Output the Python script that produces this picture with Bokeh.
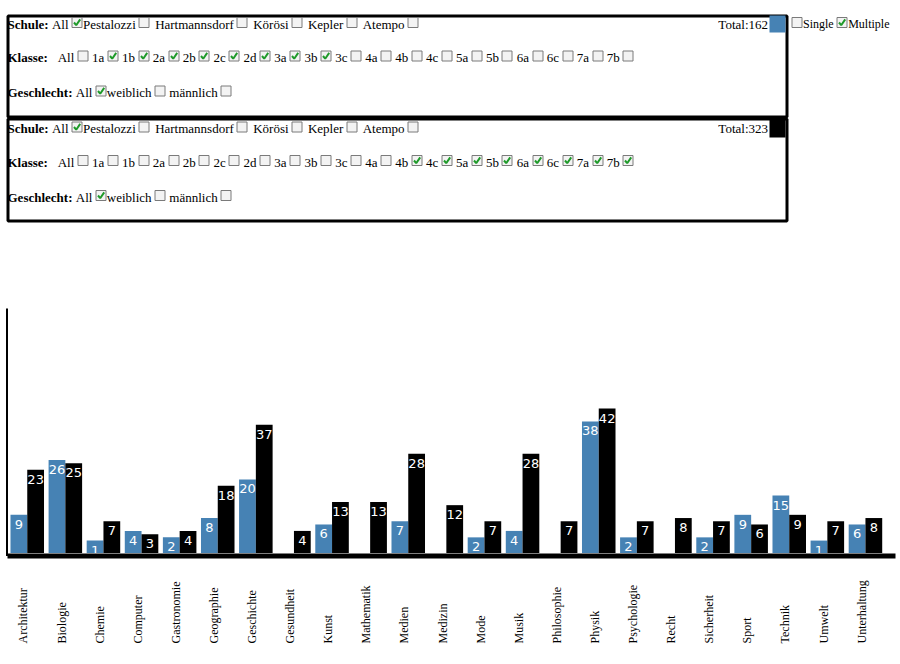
import math
from bokeh.plotting import figure
from bokeh.models import ColumnDataSource, FactorRange, Range1d
from bokeh.transform import dodge
from bokeh.layouts import column
from bokeh.core.properties import value
from bokeh.embed import file_html
from bokeh.resources import INLINE

# ---------------- data ----------------
subjects = ["Architektur", "Biologie", "Chemie", "Computer", "Gastronomie", "Geographie",
            "Geschichte", "Gesundheit", "Kunst", "Mathematik", "Medien", "Medizin", "Mode",
            "Musik", "Philosophie", "Physik", "Psychologie", "Recht", "Sicherheit", "Sport",
            "Technik", "Umwelt", "Unterhaltung"]
group1_counts = [9, 26, 1, 4, 2, 8, 20, 0, 6, 0, 7, 0, 2, 4, 0, 38, 2, 0, 2, 9, 15, 1, 6]
group2_counts = [23, 25, 7, 3, 4, 18, 37, 4, 13, 13, 28, 12, 7, 28, 7, 42, 7, 8, 7, 6, 9, 7, 8]

schools = ["Pestalozzi", "Hartmannsdorf", "Körösi", "Kepler", "Atempo"]
classes = ["1a", "1b", "2a", "2b", "2c", "2d", "3a", "3b", "3c", "4a", "4b", "4c",
           "5a", "5b", "6a", "6c", "7a", "7b"]
genders = ["weiblich", "männlich"]

group1_school_all = True
group1_schools = [False, False, False, False, False]
group1_class_all = False
group1_classes = ["1a", "1b", "2a", "2b", "2c", "2d", "3a", "3b"]
group1_gender_all = True
group1_genders = [False, False]

group2_school_all = True
group2_schools = [False, False, False, False, False]
group2_class_all = False
group2_classes = ["4b", "4c", "5a", "5b", "6a", "6c", "7a", "7b"]
group2_gender_all = True
group2_genders = [False, False]

mode_single = False
mode_multiple = True

COLOR1 = "#4682b4"
COLOR2 = "#000000"

# ---------------- layout constants ----------------
FIG_W = 896
PANEL_H = 228
CHART_H = 430
SERIF = "Liberation Serif"
TEXT_DY = -4.0   # correction between intended baseline and rendered text

# Times/Liberation Serif advance widths (1/1000 em)
REG = {' ': 250, ':': 278, '.': 250, 'A': 722, 'B': 667, 'C': 667, 'D': 722, 'E': 611, 'F': 556,
       'G': 722, 'H': 722, 'I': 333, 'J': 389, 'K': 722, 'L': 611, 'M': 889, 'N': 722, 'O': 722,
       'P': 556, 'Q': 722, 'R': 667, 'S': 556, 'T': 611, 'U': 722, 'V': 722, 'W': 944, 'X': 722,
       'Y': 722, 'Z': 611, 'a': 444, 'b': 500, 'c': 444, 'd': 500, 'e': 444, 'f': 333, 'g': 500,
       'h': 500, 'i': 278, 'j': 278, 'k': 500, 'l': 278, 'm': 778, 'n': 500, 'o': 500, 'p': 500,
       'q': 500, 'r': 333, 's': 389, 't': 278, 'u': 500, 'v': 500, 'w': 722, 'x': 500, 'y': 500,
       'z': 444, 'ö': 500, 'ä': 444, 'ü': 500}
for d in "0123456789":
    REG[d] = 500
BOLD = dict(REG)
BOLD.update({'S': 556, 'c': 444, 'h': 556, 'u': 556, 'l': 278, 'e': 444, ':': 333, 'K': 778,
             'a': 500, 's': 389, 'G': 778, 't': 333})


def text_width(s, size, bold=False):
    tbl = BOLD if bold else REG
    return sum(tbl.get(ch, 500) for ch in s) * size / 1000.0


def layout_row(tokens, x0, baseline, size, texts, boxes):
    x = x0
    for kind, val in tokens:
        if kind in ("b", "t"):
            texts.append((x, baseline, val, "bold" if kind == "b" else "normal", size))
            x += text_width(val, size, kind == "b")
        elif kind == "sp":
            x += val * 0.25 * size
        elif kind == "cb":
            x += 3
            boxes.append((round(x), baseline - 6, val))
            x += 10 + 1.5
    return x


def group_rows(school_all, school_sel, class_all, class_sel, gender_all, gender_sel):
    r1 = [("b", "Schule:"), ("sp", 1), ("t", "All"), ("cb", school_all)]
    for i, s in enumerate(schools):
        if i > 0:
            r1.append(("sp", 1.5))
        r1 += [("t", s), ("cb", school_sel[i])]
    r2 = [("b", "Klasse:"), ("sp", 3), ("t", "All"), ("cb", class_all)]
    for c in classes:
        r2 += [("sp", 1), ("t", c), ("cb", c in class_sel)]
    r3 = [("b", "Geschlecht:"), ("sp", 1), ("t", "All"), ("cb", gender_all)]
    for i, g in enumerate(genders):
        if i > 0:
            r3.append(("sp", 1))
        r3 += [("t", g), ("cb", gender_sel[i])]
    return [r1, r2, r3]


# ---------------- panel figure ----------------
panel = figure(width=FIG_W, height=PANEL_H, output_backend="svg", toolbar_location=None,
               x_range=Range1d(0, FIG_W), y_range=Range1d(PANEL_H, 0),
               min_border=0, outline_line_color=None)
panel.axis.visible = False
panel.grid.visible = False

texts, boxes = [], []
groups = [
    (14, group_rows(group1_school_all, group1_schools, group1_class_all, group1_classes,
                    group1_gender_all, group1_genders), sum(group1_counts), COLOR1),
    (118.5, group_rows(group2_school_all, group2_schools, group2_class_all, group2_classes,
                       group2_gender_all, group2_genders), sum(group2_counts), COLOR2),
]
tot_texts = []
for top, rows, total, col in groups:
    for k, row in enumerate(rows):
        layout_row(row, 7, top + [13.5, 47, 82][k], 13, texts, boxes)
    tot_texts.append((767.5, top + 13.5, "Total:%d" % total))

# boxes (frames)
panel.quad(left=[7.5, 7.5], right=[786.5, 786.5], top=[15.5, 118.5], bottom=[116.5, 220.5],
           fill_color=None, line_color="black", line_width=3)
# color swatches
panel.quad(left=[769, 769], right=[785, 785], top=[15, 119], bottom=[32, 137],
           fill_color=[COLOR1, COLOR2], line_color=None)

# mode selector (outside)
layout_row([("cb", mode_single), ("t", "Single"), ("cb", mode_multiple), ("t", "Multiple")],
           788, 27.5, 12, texts, boxes)

for style in ("normal", "bold"):
    sel = [t for t in texts if t[3] == style]
    for size in sorted(set(t[4] for t in sel)):
        s2 = [t for t in sel if t[4] == size]
        panel.text(x=[t[0] for t in s2], y=[t[1] + TEXT_DY for t in s2], text=[t[2] for t in s2],
                   text_font=value(SERIF), text_font_size="%dpx" % size, text_font_style=style,
                   text_color="black", text_align="left", text_baseline="alphabetic")
panel.text(x=[t[0] for t in tot_texts], y=[t[1] + TEXT_DY for t in tot_texts], text=[t[2] for t in tot_texts],
           text_font=value(SERIF), text_font_size="13px", text_color="black",
           text_align="right", text_baseline="alphabetic")

panel.quad(left=[b[0] + 0.5 for b in boxes], right=[b[0] + 10.5 for b in boxes],
           top=[b[1] - 4.5 for b in boxes], bottom=[b[1] + 5.5 for b in boxes],
           fill_color="#f3f3f3", line_color="#7a7a7a", line_width=1)
chk = [b for b in boxes if b[2]]
panel.multi_line(xs=[[b[0] + 2.5, b[0] + 4.7, b[0] + 8.7] for b in chk],
                 ys=[[b[1] + 0.5, b[1] + 3.2, b[1] - 2.6] for b in chk],
                 line_color="#1f9a2a", line_width=2)

# ---------------- chart figure ----------------
PX_PER_UNIT = 3.22
ZERO_PAGE_Y = 543.3          # page y where a zero-height bar would end (bars keep a 9px stub)
CHART_TOP_PAGE = PANEL_H
Y_END = (ZERO_PAGE_Y - CHART_TOP_PAGE) / PX_PER_UNIT
Y_START = Y_END - CHART_H / PX_PER_UNIT
BAR_BASE = -9.2 / PX_PER_UNIT
GROUP_PITCH_PX = 38.1
FIRST_CENTER_PX = 26.75
X_PAD = (FIG_W / GROUP_PITCH_PX - len(subjects)) / 2     # per side (synthetic units)
PITCH = FIG_W / (len(subjects) + 2 * X_PAD)
SHIFT = (FIRST_CENTER_PX - (X_PAD + 0.5) * PITCH) / PITCH
BAR_W = 0.44
LABEL_Y = -(643 - ZERO_PAGE_Y) / PX_PER_UNIT
AXIS_Y = -(555.5 - ZERO_PAGE_Y) / PX_PER_UNIT
AXIS_TOP = (ZERO_PAGE_Y - 308) / PX_PER_UNIT

chart = figure(width=FIG_W, height=CHART_H, output_backend="svg", toolbar_location=None,
               x_range=FactorRange(*subjects, range_padding=X_PAD, range_padding_units="absolute"),
               y_range=Range1d(Y_START, Y_END), min_border=0, outline_line_color=None)
chart.axis.visible = False
chart.grid.visible = False

for counts, col, dx in [(group1_counts, COLOR1, SHIFT - BAR_W / 2), (group2_counts, COLOR2, SHIFT + BAR_W / 2)]:
    src = ColumnDataSource(dict(
        subject=[s for s, v in zip(subjects, counts) if v > 0],
        count=[v for v in counts if v > 0],
        label=[str(v) for v in counts if v > 0],
    ))
    xs = dodge("subject", dx, range=chart.x_range)
    chart.vbar(x=xs, top="count", bottom=BAR_BASE, width=BAR_W, source=src,
               fill_color=col, line_color=None)
    chart.text(x=xs, y="count", text="label", source=src, text_color="white",
               text_font=value("DejaVu Sans"), text_font_size="13px",
               text_align="center", text_baseline="alphabetic", y_offset=13.5 + TEXT_DY)

lsrc = ColumnDataSource(dict(subject=subjects))
chart.text(x=dodge("subject", SHIFT - 0.1, range=chart.x_range), y=LABEL_Y, text="subject",
           source=lsrc, angle=math.pi / 2, text_align="left", text_baseline="middle",
           text_font=value(SERIF), text_font_size="12px", text_color="black")

x_left = -X_PAD + 6.5 / PITCH
x_first = -X_PAD + 7 / PITCH
x_right = -X_PAD + 895 / PITCH
chart.segment(x0=[x_left], x1=[x_left], y0=[AXIS_Y], y1=[AXIS_TOP], line_color="black", line_width=2)
chart.segment(x0=[x_first], x1=[x_right], y0=[AXIS_Y], y1=[AXIS_Y], line_color="black", line_width=5)

layout = column(panel, chart)
open("out.html", "w").write(file_html(layout, INLINE))
